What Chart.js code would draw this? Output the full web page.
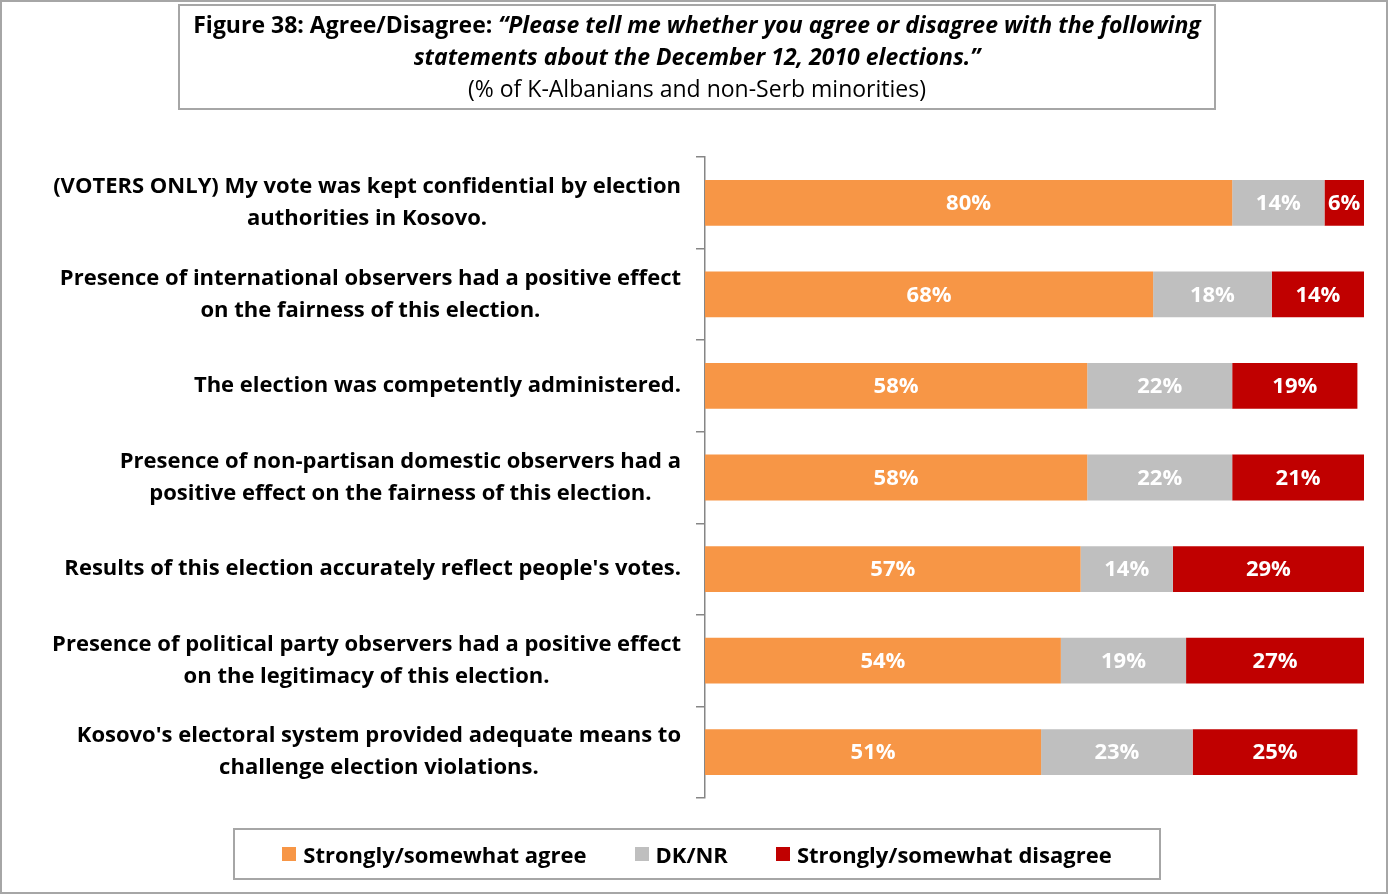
<!DOCTYPE html>
<html>
<head>
<meta charset="utf-8">
<script src="https://cdn.jsdelivr.net/npm/chart.js@4"></script>
<style>
  body { margin: 0; background: #fff; }
  #wrap { position: relative; width: 1388px; height: 894px; box-sizing: border-box; border: 2px solid #a6a6a6; font-family: "Open Sans", sans-serif; }
  #chart { position: absolute; left: 0; top: 0; }
  #title { position: absolute; left: 176px; top: 2px; width: 1038px; height: 106px; box-sizing: border-box; border: 2px solid #a6a6a6; text-align: center; font-size: 23px; line-height: 32px; padding-top: 2px; color: #000; white-space: nowrap; }
  #legend { position: absolute; left: 231px; top: 826px; width: 928px; height: 52px; box-sizing: border-box; border: 2px solid #a6a6a6; display: flex; align-items: center; justify-content: center; font-weight: bold; font-size: 22px; }
  .item { display: flex; align-items: center; margin: 0 24px; }
  .swatch { width: 14px; height: 14px; margin-right: 7px; }
</style>
</head>
<body>
<div id="wrap">
  <canvas id="chart" width="1384" height="890"></canvas>
  <div id="title">
    <b>Figure 38: Agree/Disagree: <i>“Please tell me whether you agree or disagree with the following<br>statements about the December 12, 2010 elections.”</i></b><br>
    (% of K-Albanians and non-Serb minorities)
  </div>
  <div id="legend"></div>
</div>
<script>
// Statements, one array of lines per bar
var statements = [
  ["(VOTERS ONLY) My vote was kept confidential by election", "authorities in Kosovo."],
  ["Presence of international observers had a positive effect", "on the fairness of this election."],
  ["The election was competently administered."],
  ["Presence of non-partisan domestic observers had a", "positive effect on the fairness of this election."],
  ["Results of this election accurately reflect people's votes."],
  ["Presence of political party observers had a positive effect", "on the legitimacy of this election."],
  ["Kosovo's electoral system provided adequate means to", "challenge election violations."]
];

var agree = [80, 68, 58, 58, 57, 54, 51];
var dkNr = [14, 18, 22, 22, 14, 19, 23];
var disagree = [6, 14, 19, 21, 29, 27, 25];

var seriesNames = ["Strongly/somewhat agree", "DK/NR", "Strongly/somewhat disagree"];
var seriesColors = ["#F79646", "#BFBFBF", "#C00000"];

var labelFont = "bold 22px 'Open Sans', sans-serif";

// statement text, right-aligned block with centered lines
var statementLabels = {
  id: "statementLabels",
  afterDraw: function (chart) {
    var ctx = chart.ctx;
    var y = chart.scales.y;
    ctx.save();
    ctx.font = labelFont;
    ctx.fillStyle = "#000";
    ctx.textAlign = "center";
    ctx.textBaseline = "middle";
    statements.forEach(function (lines, i) {
      var w = Math.max.apply(null, lines.map(function (l) { return ctx.measureText(l).width; }));
      var cx = 679 - w / 2;
      var cy = y.getPixelForTick(i);
      var top = cy - (lines.length - 1) * 16;
      lines.forEach(function (l, j) { ctx.fillText(l, cx, top + j * 32); });
    });
    ctx.restore();
  }
};

// percentage values inside each segment
var valueLabels = {
  id: "valueLabels",
  afterDatasetsDraw: function (chart) {
    var ctx = chart.ctx;
    var area = chart.chartArea;
    ctx.save();
    ctx.font = "bold 22px 'Open Sans', sans-serif";
    ctx.fillStyle = "#fff";
    ctx.textAlign = "center";
    ctx.textBaseline = "middle";
    chart.data.datasets.forEach(function (ds, di) {
      chart.getDatasetMeta(di).data.forEach(function (bar, i) {
        var x1 = Math.min(bar.base, bar.x), x2 = Math.min(Math.max(bar.base, bar.x), area.right);
        ctx.fillText(ds.data[i] + "%", (x1 + x2) / 2, bar.y + 1);
      });
    });
    ctx.restore();
  }
};

var ctx = document.getElementById("chart").getContext("2d");
var chart = new Chart(ctx, {
  type: "bar",
  data: {
    labels: statements,
    datasets: [agree, dkNr, disagree].map(function (d, k) {
      return {
        label: seriesNames[k],
        data: d,
        backgroundColor: seriesColors[k],
        borderWidth: 0,
        barPercentage: 1,
        categoryPercentage: 0.5
      };
    })
  },
  options: {
    indexAxis: "y",
    responsive: false,
    animation: false,
    layout: { padding: { left: 683, right: 22, top: 155, bottom: 94 } },
    plugins: { legend: { display: false }, tooltip: { enabled: false } },
    scales: {
      x: { stacked: true, min: 0, max: 100, display: false },
      y: {
        stacked: true,
        offset: true,
        ticks: { display: false },
        grid: { offset: true, drawOnChartArea: false, tickLength: 9, color: "#868686", lineWidth: 1.5 },
        border: { color: "#868686", width: 1.5 },
        afterFit: function (s) { s.width = 20; }
      }
    }
  },
  plugins: [statementLabels, valueLabels]
});

var legend = document.getElementById("legend");
seriesNames.forEach(function (name, k) {
  var item = document.createElement("div");
  item.className = "item";
  item.innerHTML = '<span class="swatch" style="background:' + seriesColors[k] + '"></span>' + name;
  legend.appendChild(item);
});
</script>
</body>
</html>
